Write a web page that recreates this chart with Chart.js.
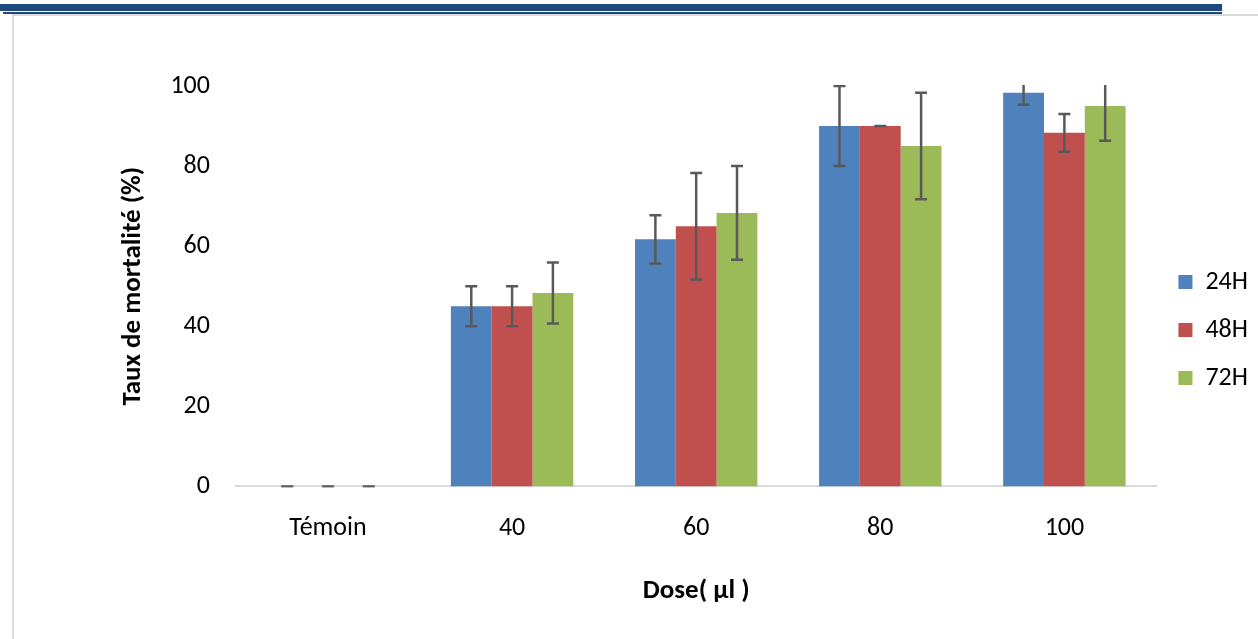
<!DOCTYPE html>
<html>
<head>
<meta charset="utf-8">
<script src="https://cdn.jsdelivr.net/npm/chart.js@4"></script>
<style>
  html, body { margin: 0; padding: 0; background: #fff; }
  .page { position: relative; width: 1258px; height: 639px; overflow: hidden; }
  .band { position: absolute; left: 0; top: 4px; width: 1222px; height: 7px; background: #1f497d; }
  .rule { position: absolute; left: 3px; top: 12px; width: 1219px; height: 2px; background: #1f497d; }
  .frame-top { position: absolute; left: 12px; top: 14px; right: 0; height: 2px; background: #d9d9d9; }
  .frame-left { position: absolute; left: 12px; top: 14px; bottom: 0; width: 2px; background: #d9d9d9; }
  #chartBox { position: absolute; left: 20px; top: 0; width: 1238px; height: 639px; }
</style>
</head>
<body>
<div class="page">
  <div class="band"></div>
  <div class="rule"></div>
  <div class="frame-top"></div>
  <div class="frame-left"></div>
  <div id="chartBox"><canvas id="mortalityChart"></canvas></div>
</div>
<script>
// Mortality rate by dose and exposure time
const doses = ['Témoin', '40', '60', '80', '100'];
const seriesNames = ['24H', '48H', '72H'];
const mort24 = [0, 45, 61.7, 90, 98.3];
const mort48 = [0, 45, 65, 90, 88.3];
const mort72 = [0, 48.3, 68.3, 85, 95];
const err24 = [0, 5, 6, 10, 3];
const err48 = [0, 5, 13.3, 0, 4.7];
const err72 = [0, 7.6, 11.7, 13.3, 8.7];
const yTicks = [0, 20, 40, 60, 80, 100];

const colors = ['#4f81bd', '#c0504d', '#9bbb59'];
const FONT = 'Carlito, Lato, "Liberation Sans", sans-serif';

// error bars drawn from the value scale
const errorBarPlugin = {
    id: 'errorBars',
    afterDatasetsDraw(chart) {
        const ctx = chart.ctx;
        const yScale = chart.scales.y;
        const area = chart.chartArea;
        ctx.save();
        ctx.beginPath();
        ctx.rect(area.left, area.top - 1, area.right - area.left, area.bottom - area.top + 2);
        ctx.clip();
        ctx.strokeStyle = '#595959';
        ctx.lineWidth = 2.5;
        chart.data.datasets.forEach((ds, di) => {
            const meta = chart.getDatasetMeta(di);
            meta.data.forEach((bar, i) => {
                const v = ds.data[i];
                const e = ds.errors[i];
                const yTop = yScale.getPixelForValue(v + e);
                const yBot = yScale.getPixelForValue(v - e);
                const x = bar.x;
                const cap = 6;
                ctx.beginPath();
                ctx.moveTo(x, yTop); ctx.lineTo(x, yBot);
                ctx.moveTo(x - cap, yTop); ctx.lineTo(x + cap, yTop);
                ctx.moveTo(x - cap, yBot); ctx.lineTo(x + cap, yBot);
                ctx.stroke();
            });
        });
        ctx.restore();
    }
};

const datasets = [mort24, mort48, mort72].map((vals, i) => ({
    label: seriesNames[i],
    data: vals,
    errors: [err24, err48, err72][i],
    backgroundColor: colors[i],
    borderWidth: 0,
    categoryPercentage: 0.665,
    barPercentage: 1.0
}));

new Chart(document.getElementById('mortalityChart'), {
    type: 'bar',
    data: { labels: doses, datasets: datasets },
    plugins: [errorBarPlugin],
    options: {
        responsive: true,
        maintainAspectRatio: false,
        animation: false,
        layout: { padding: { top: 86, bottom: 65, left: 97, right: 0 } },
        plugins: {
            legend: {
                position: 'right',
                align: 'center',
                labels: {
                    boxWidth: 14,
                    boxHeight: 14,
                    padding: 22,
                    color: '#000',
                    font: { family: FONT, size: 26 }
                }
            },
            tooltip: { enabled: false }
        },
        scales: {
            x: {
                grid: { display: false, drawTicks: false },
                border: { display: true, color: '#d9d9d9', width: 2 },
                ticks: { color: '#000', padding: 26, font: { family: FONT, size: 26 } },
                title: {
                    display: true,
                    text: 'Dose( µl )',
                    color: '#000',
                    font: { family: FONT, size: 27, weight: 'bold' },
                    padding: { top: 5, bottom: -33 }
                }
            },
            y: {
                min: 0,
                max: 100,
                afterBuildTicks: axis => { axis.ticks = yTicks.map(v => ({ value: v })); },
                grid: { display: false, drawTicks: false },
                border: { display: false },
                ticks: { color: '#000', padding: 26, font: { family: FONT, size: 26 } },
                title: {
                    display: true,
                    text: 'Taux de mortalité (%)',
                    color: '#000',
                    font: { family: FONT, size: 27, weight: 'bold' },
                    padding: { top: 0, bottom: -5 }
                }
            }
        }
    }
});
</script>
</body>
</html>
